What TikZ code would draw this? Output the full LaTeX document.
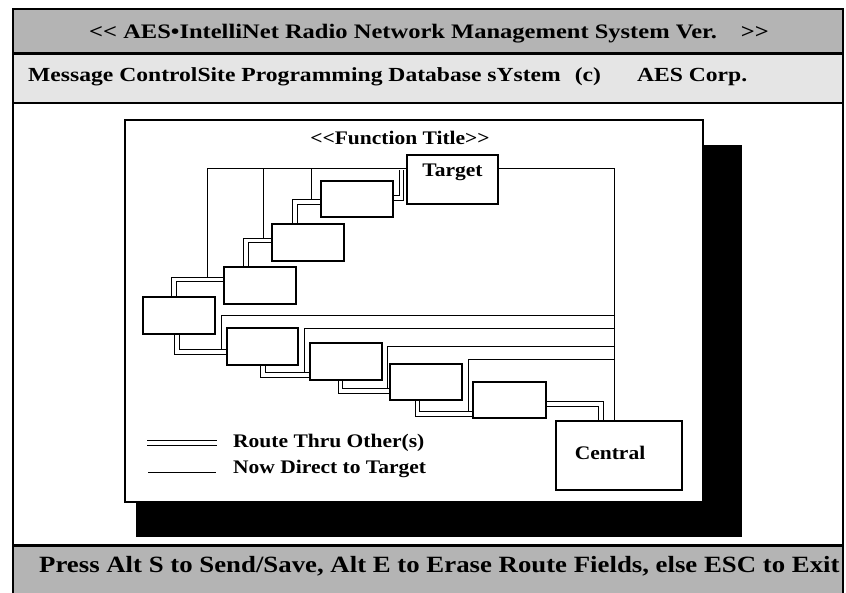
\documentclass[tikz,border=0pt]{standalone}
\usepackage{fontspec}
\setmainfont{Liberation Serif}
\newfontfamily\fhead{Liberation Serif}[FakeStretch=1.19]
\newfontfamily\fsub{Liberation Serif}[FakeStretch=1.18]
\newfontfamily\fbot{Liberation Serif}[FakeStretch=1.15]
\newfontfamily\finner{Liberation Serif}[FakeStretch=1.12]
\definecolor{bandgray}{RGB}{180,180,180}
\definecolor{subgray}{RGB}{229,229,229}
\newcommand\mkbox[5]{\node[box, minimum width={#4-#2}, minimum height={#5-#3}] (#1) at ({(#2+#4)/2},{(#3+#5)/2}) {};}
\begin{document}
\begin{tikzpicture}[x=1pt,y=-1pt,
  box/.style={draw, fill=white, line width=1.4pt, inner sep=0pt},
  route/.style={draw, double=white, double distance=3.4pt, line width=1pt, line join=miter},
  direct/.style={draw, line width=1pt},
  headtxt/.style={font=\fhead\bfseries\fontsize{20.6}{24}\selectfont, inner sep=0pt},
  subtxt/.style={font=\fsub\bfseries\fontsize{20}{24}\selectfont, inner sep=0pt},
  bottxt/.style={font=\fbot\bfseries\fontsize{23.3}{26}\selectfont, inner sep=0pt},
  lbl/.style={font=\finner\bfseries\fontsize{19.2}{22}\selectfont, inner sep=0pt}]
\useasboundingbox (0,0) rectangle (846,593);
% bands
\fill[bandgray] (13,9) rectangle (843,53);
\fill[subgray] (13,53) rectangle (843,103);
\fill[bandgray] (13,545) rectangle (843,593);
\draw[line width=3pt] (13,53.5) -- (843,53.5);
\draw[line width=2pt] (13,103) -- (843,103);
\draw[line width=3pt] (13,545) -- (843,545);
\draw[line width=2pt] (13,593) -- (13,9) -- (843,9) -- (843,593);
\node[headtxt, anchor=base west] (hdr) at (89,39) {<\kern0pt< AES•IntelliNet Radio Network Management System Ver.\hspace{24pt}>\kern0pt>};
\node[subtxt, anchor=base west] (sub) at (28,82) {Message ControlSite Programming Database sYstem\hspace{14pt}(c)\hspace{36pt}AES Corp.};
\node[bottxt, anchor=base west] (bot) at (39,572) {Press Alt S to Send/Save, Alt E to Erase Route Fields, else ESC to Exit};
% window
\fill (136,145) rectangle (742,537);
\draw[fill=white, line width=2pt] (125,120) rectangle (703,502);
\node[lbl, anchor=base] (ftitle) at (400,145) {<\kern0pt<Function Title>\kern0pt>};
% boxes (placed first for anchors, redrawn later)
\mkbox{Target}{407}{155}{498}{204}
\mkbox{A}{321}{181}{393}{217}
\mkbox{B}{272}{224}{344}{261}
\mkbox{C}{224}{267}{296}{304}
\mkbox{D}{143}{297}{215}{334}
\mkbox{E}{227}{328}{298}{365}
\mkbox{F}{310}{343}{382}{380}
\mkbox{G}{390}{364}{462}{400}
\mkbox{H}{473}{382}{546}{418}
\mkbox{Central}{556}{421}{682}{490}
% junction coordinates
\coordinate (top) at ([yshift=10.5pt]Target.west);
\coordinate (trunk) at ([xshift=59pt]Central.north west);
\coordinate (jDC) at (207,279.5);
\coordinate (jCB) at (263,240.5);
\coordinate (jBA) at (311,202);
\coordinate (h1) at (615,316);
\coordinate (h2) at (615,329);
\coordinate (h3) at (615,347);
\coordinate (h4) at (615,360);
\coordinate (jDE) at (221,352);
\coordinate (jEF) at (304,375);
\coordinate (jFG) at (387,391);
\coordinate (jGH) at (468,414);
% direct lines
\draw[direct] (top) -| (jDC);
\draw[direct] (jCB |- top) -- (jCB);
\draw[direct] (jBA |- top) -- (jBA);
\draw[direct] ([yshift=10.5pt]Target.east) -| (trunk);
\draw[direct] (h1) -| (jDE);
\draw[direct] (h2) -| (jEF);
\draw[direct] (h3) -| (jFG);
\draw[direct] (h4) -| (jGH);
% routes through others
\draw[route] ([xshift=31.5pt]D.north west) |- ([yshift=6pt]C.west);
\draw[route] ([xshift=22.5pt]C.north west) |- ([yshift=2pt]B.west);
\draw[route] ([xshift=23.5pt]B.north west) |- ([yshift=-3pt]A.west);
\draw[route] ([yshift=1pt]A.east) -| ([xshift=-5pt,yshift=9.9pt]Target.west);
\draw[route] ([xshift=34.5pt]D.south west) |- ([yshift=-5.5pt]E.west);
\draw[route] ([xshift=36.5pt]E.south west) |- ([yshift=-13.5pt]F.west);
\draw[route] ([xshift=31pt]F.south west) |- ([yshift=-9pt]G.west);
\draw[route] ([xshift=28pt]G.south west) |- ([yshift=-14pt]H.west);
\draw[route] ([yshift=-4pt]H.east) -| ([xshift=45.5pt]Central.north west);
% redraw boxes on top
\mkbox{Target}{407}{155}{498}{204}
\mkbox{A}{321}{181}{393}{217}
\mkbox{B}{272}{224}{344}{261}
\mkbox{C}{224}{267}{296}{304}
\mkbox{D}{143}{297}{215}{334}
\mkbox{E}{227}{328}{298}{365}
\mkbox{F}{310}{343}{382}{380}
\mkbox{G}{390}{364}{462}{400}
\mkbox{H}{473}{382}{546}{418}
\mkbox{Central}{556}{421}{682}{490}
\node[lbl, anchor=base] (tgtlbl) at ([yshift=-22pt]Target.north) {Target};
\node[lbl, anchor=base] (cenlbl) at ([xshift=-9pt,yshift=-39pt]Central.north) {Central};
% legend
\coordinate (lg1) at (147,443);
\coordinate (lg2) at (217,443);
\coordinate (ls1) at (148,472);
\coordinate (ls2) at (216,472);
\draw[route, double distance=4.6pt] (lg1) -- (lg2);
\draw[direct] (ls1) -- (ls2);
\node[lbl, anchor=base west] (lt1) at (233,447) {Route Thru Other(s)};
\node[lbl, anchor=base west] (lt2) at (233,473) {Now Direct to Target};
\end{tikzpicture}
\end{document}
